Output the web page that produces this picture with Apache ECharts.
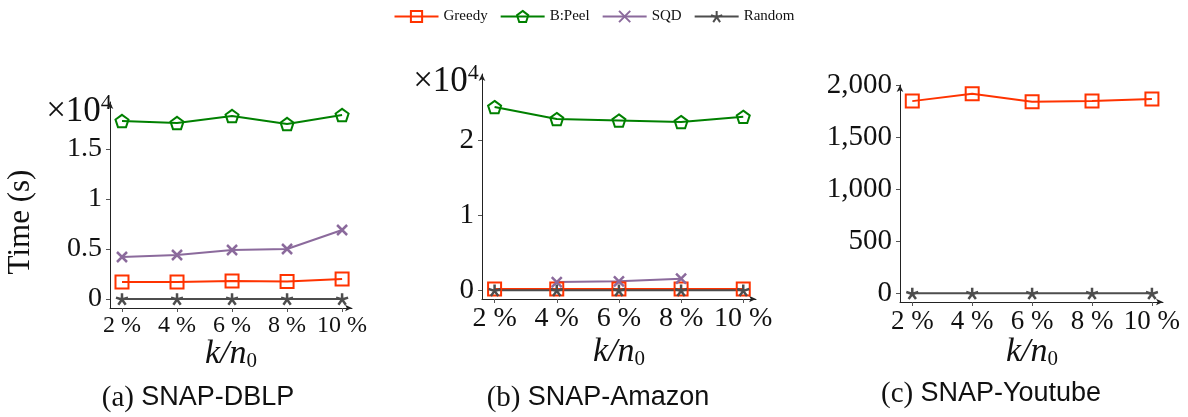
<!DOCTYPE html>
<html>
<head>
<meta charset="utf-8">
<script src="https://cdn.jsdelivr.net/npm/echarts@6/dist/echarts.min.js"></script>
<style>
  html, body { margin: 0; padding: 0; background: #fff; }
  #chart { width: 1188px; height: 417px; }
</style>
</head>
<body>
<div id="chart"></div>
<script>
// k / n0 in percent
const kPct = [2, 4, 6, 8, 10];

// SNAP-DBLP (seconds)
const dblpGreedy = [1700, 1700, 1800, 1750, 2000];
const dblpPeel = [17800, 17600, 18300, 17500, 18400];
const dblpSqd = [4200, 4400, 4900, 5000, 6900];
const dblpRandom = [5, 5, 5, 5, 5];

// SNAP-Amazon (seconds)
const amazonGreedy = [180, 180, 180, 180, 180];
const amazonPeel = [24400, 22800, 22600, 22400, 23100];
const amazonSqd = [null, 1100, 1200, 1550, null];
const amazonRandom = [10, 10, 10, 10, 10];

// SNAP-Youtube (seconds)
const youtubeGreedy = [1850, 1920, 1845, 1850, 1870];
const youtubeRandom = [2, 2, 2, 2, 2];

const yTicksDblp = [0, 5000, 10000, 15000];
const yTicksAmazon = [0, 10000, 20000];
const yTicksYoutube = [0, 500, 1000, 1500, 2000];

const COLORS = {
  Greedy: "#ff3300",
  "B:Peel": "#008000",
  SQD: "#8b6a9c",
  Random: "#4d4d4d",
};
const SYMBOLS = {
  Greedy: "rect",
  "B:Peel": "path://M0,-10 L9.51,-3.09 L5.88,8.09 L-5.88,8.09 L-9.51,-3.09 Z",
  SQD: "path://M-6,-6 L6,6 M6,-6 L-6,6",
  Random: "path://M0,0 L0,-7 M0,0 L6.66,-2.16 M0,0 L4.11,5.66 M0,0 L-4.11,5.66 M0,0 L-6.66,-2.16",
};
const SIZES = { Greedy: 13, "B:Peel": 13, SQD: 10, Random: 12 };

const serif = "Liberation Serif";
const sans = "Liberation Sans";

function pairs(vals) {
  return kPct.map((k, i) => [k, vals[i] == null ? "-" : vals[i]]);
}

function mkSeries(name, vals, idx) {
  const c = COLORS[name];
  return {
    name: name,
    type: "line",
    xAxisIndex: idx,
    yAxisIndex: idx,
    data: pairs(vals),
    symbol: SYMBOLS[name],
    symbolSize: SIZES[name],
    symbolKeepAspect: true,
    showAllSymbol: true,
    connectNulls: false,
    lineStyle: { color: c, width: 2 },
    itemStyle: {
      color: "rgba(255,255,255,0)",
      borderColor: c,
      borderWidth: name === "Random" || name === "SQD" ? 2.5 : 2,
    },
    emphasis: { disabled: true },
    animation: false,
  };
}

function mkX(idx, min, max, fontSize) {
  return {
    type: "value",
    gridIndex: idx,
    min: min,
    max: max,
    axisLine: {
      onZero: false,
      lineStyle: { color: "#222", width: 1 },
      symbol: ["none", "arrow"],
      symbolSize: [5, 7],
    },
    axisTick: { customValues: kPct, length: 4, lineStyle: { color: "#555" } },
    axisLabel: {
      customValues: kPct,
      formatter: (v) => v + " %",
      fontFamily: serif,
      fontSize: fontSize,
      color: "#111",
      margin: 6,
    },
    splitLine: { show: false },
  };
}

function mkY(idx, min, max, ticks, fmt, fontSize) {
  return {
    type: "value",
    gridIndex: idx,
    min: min,
    max: max,
    axisLine: {
      show: true,
      onZero: false,
      lineStyle: { color: "#222", width: 1 },
      symbol: ["none", "arrow"],
      symbolSize: [5, 7],
    },
    axisTick: { show: true, customValues: ticks, length: 4, lineStyle: { color: "#555" } },
    axisLabel: {
      customValues: ticks,
      formatter: fmt,
      fontFamily: serif,
      fontSize: fontSize,
      color: "#111",
      margin: 8,
    },
    splitLine: { show: false },
  };
}

const chart = echarts.init(document.getElementById("chart"));

const tenK = (v) => String(v / 10000);
const comma = (v) => v.toLocaleString("en-US");

function mkText(x, y, text, rich, extra) {
  return Object.assign(
    {
      type: "text",
      x: x,
      y: y,
      style: {
        text: text,
        rich: rich,
        align: "center",
        verticalAlign: "middle",
        fill: "#111",
      },
    },
    extra || {}
  );
}

const kRich = {
  i: { fontFamily: serif, fontStyle: "italic", fontSize: 34, fill: "#111" },
  s: { fontFamily: serif, fontSize: 21, fill: "#111", padding: [14, 0, 0, 0] },
};
const powRich = {
  a: { fontFamily: serif, fontSize: 35, fill: "#111" },
  b: { fontFamily: serif, fontSize: 22, fill: "#111", padding: [0, 0, 18, 0] },
};
const capRich = {
  p: { fontFamily: serif, fontSize: 29, fill: "#111" },
  t: { fontFamily: sans, fontSize: 27, fill: "#111" },
};

const option = {
  backgroundColor: "#fff",
  animation: false,
  legend: {
    top: 4,
    left: "center",
    itemWidth: 44,
    itemHeight: 14,
    itemGap: 12,
    data: ["Greedy", "B:Peel", "SQD", "Random"],
    textStyle: { fontFamily: serif, fontSize: 15, color: "#111" },
  },
  grid: [
    { left: 110, top: 102, width: 242, height: 206, outerBoundsMode: "none" },
    { left: 482, top: 74, width: 274, height: 225, outerBoundsMode: "none" },
    { left: 900, top: 85, width: 263, height: 217, outerBoundsMode: "none" },
  ],
  xAxis: [
    mkX(0, 1.564, 10.36, 24),
    mkX(1, 1.595, 10.41, 28),
    mkX(2, 1.59, 10.37, 27),
  ],
  yAxis: [
    mkY(0, -900, 19700, yTicksDblp, tenK, 28),
    mkY(1, -1150, 28800, yTicksAmazon, tenK, 29),
    mkY(2, -81, 2005, yTicksYoutube, comma, 29),
  ],
  series: [
    mkSeries("Greedy", dblpGreedy, 0),
    mkSeries("B:Peel", dblpPeel, 0),
    mkSeries("SQD", dblpSqd, 0),
    mkSeries("Random", dblpRandom, 0),
    mkSeries("Greedy", amazonGreedy, 1),
    mkSeries("B:Peel", amazonPeel, 1),
    mkSeries("SQD", amazonSqd, 1),
    mkSeries("Random", amazonRandom, 1),
    mkSeries("Greedy", youtubeGreedy, 2),
    mkSeries("Random", youtubeRandom, 2),
  ],
  graphic: [
    // y axis title
    mkText(21, 222, "Time (s)", null, {
      rotation: Math.PI / 2,
      style: { text: "Time (s)", fontFamily: serif, fontSize: 31, fill: "#111", align: "center", verticalAlign: "middle" },
    }),
    // x10^4 multipliers
    mkText(79, 112, "{a|×10}{b|4}", powRich),
    mkText(446, 82, "{a|×10}{b|4}", powRich),
    // x axis names
    mkText(231, 354, "{i|k/n}{s|0}", kRich),
    mkText(619, 352, "{i|k/n}{s|0}", kRich),
    mkText(1032, 352, "{i|k/n}{s|0}", kRich),
    // captions
    mkText(198, 398, "{p|(a) }{t|SNAP-DBLP}", capRich),
    mkText(598, 398, "{p|(b) }{t|SNAP-Amazon}", capRich),
    mkText(991, 394, "{p|(c) }{t|SNAP-Youtube}", capRich),
  ],
};

chart.setOption(option);
</script>
</body>
</html>
